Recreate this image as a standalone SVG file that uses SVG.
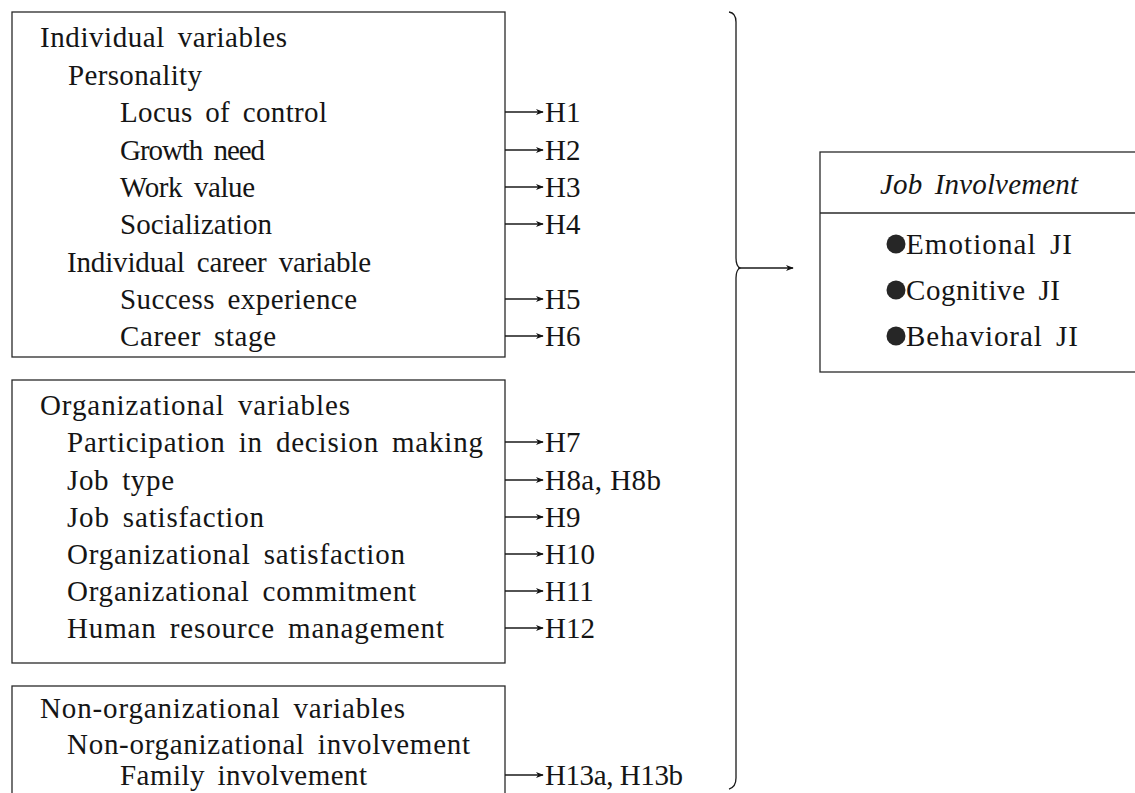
<svg xmlns="http://www.w3.org/2000/svg" width="1135" height="793" viewBox="0 0 1135 793">
<defs>
<style>
.box{fill:none;stroke:#2a2a2a;stroke-width:1.3}
.t{font-family:"Liberation Serif","Times New Roman",serif;font-size:29px;fill:#151515;word-spacing:5px}
.h{font-family:"Liberation Serif","Times New Roman",serif;font-size:29px;fill:#151515}
.it{font-style:italic}
.ln{fill:none;stroke:#1a1a1a;stroke-width:1.3}
.bul{fill:#262626}
</style>
<marker id="ah" viewBox="0 0 10 10" refX="9" refY="5" markerWidth="8" markerHeight="8" markerUnits="userSpaceOnUse" orient="auto">
<path d="M0,1 L10,5 L0,9 L3,5 Z" fill="#111"/>
</marker>
</defs>
<rect width="1135" height="793" fill="#fff"/>

<g id="individual">
<rect class="box" x="12" y="12" width="493" height="345"/>
<text class="t" x="40" y="47" textLength="247" lengthAdjust="spacing">Individual variables</text>
<text class="t" x="68" y="85" textLength="134" lengthAdjust="spacing">Personality</text>
<text class="t" x="120" y="122" textLength="207" lengthAdjust="spacing">Locus of control</text>
<text class="t" x="120" y="160" textLength="145" lengthAdjust="spacing">Growth need</text>
<text class="t" x="120" y="197" textLength="135" lengthAdjust="spacing">Work value</text>
<text class="t" x="120" y="234" textLength="152" lengthAdjust="spacing">Socialization</text>
<text class="t" x="67" y="272" textLength="304" lengthAdjust="spacing">Individual career variable</text>
<text class="t" x="120" y="309" textLength="237" lengthAdjust="spacing">Success experience</text>
<text class="t" x="120" y="346" textLength="156" lengthAdjust="spacing">Career stage</text>
</g>

<g id="organizational">
<rect class="box" x="12" y="380" width="493" height="283"/>
<text class="t" x="40" y="415" textLength="310" lengthAdjust="spacing">Organizational variables</text>
<text class="t" x="67" y="452" textLength="416" lengthAdjust="spacing">Participation in decision making</text>
<text class="t" x="67" y="490" textLength="107" lengthAdjust="spacing">Job type</text>
<text class="t" x="67" y="527" textLength="197" lengthAdjust="spacing">Job satisfaction</text>
<text class="t" x="67" y="564" textLength="338" lengthAdjust="spacing">Organizational satisfaction</text>
<text class="t" x="67" y="601" textLength="349" lengthAdjust="spacing">Organizational commitment</text>
<text class="t" x="67" y="638" textLength="377" lengthAdjust="spacing">Human resource management</text>
</g>

<g id="nonorganizational">
<rect class="box" x="12" y="686" width="493" height="130"/>
<text class="t" x="40" y="718" textLength="365" lengthAdjust="spacing">Non-organizational variables</text>
<text class="t" x="67" y="754" textLength="403" lengthAdjust="spacing">Non-organizational involvement</text>
<text class="t" x="120" y="785" textLength="247" lengthAdjust="spacing">Family involvement</text>
</g>

<g id="hypotheses">
<text class="h" x="545" y="122">H1</text>
<text class="h" x="545" y="160">H2</text>
<text class="h" x="545" y="197">H3</text>
<text class="h" x="545" y="234">H4</text>
<text class="h" x="545" y="309">H5</text>
<text class="h" x="545" y="346">H6</text>
<text class="h" x="545" y="452">H7</text>
<text class="h" x="545" y="490" textLength="116" lengthAdjust="spacing">H8a, H8b</text>
<text class="h" x="545" y="527">H9</text>
<text class="h" x="545" y="564">H10</text>
<text class="h" x="545" y="601">H11</text>
<text class="h" x="545" y="638">H12</text>
<text class="h" x="545" y="785" textLength="138" lengthAdjust="spacing">H13a, H13b</text>
</g>

<g id="job-involvement">
<rect class="box" x="820" y="152" width="330" height="220"/>
<line class="box" x1="820" y1="213" x2="1135" y2="213"/>
<text class="h it" x="979" y="194" text-anchor="middle" textLength="198" lengthAdjust="spacing" style="word-spacing:5px">Job Involvement</text>
<circle class="bul" cx="896" cy="244" r="9.5"/>
<text class="t" x="906" y="254" textLength="166" lengthAdjust="spacing">Emotional JI</text>
<circle class="bul" cx="896" cy="290" r="9.5"/>
<text class="t" x="906" y="300" textLength="154" lengthAdjust="spacing">Cognitive JI</text>
<circle class="bul" cx="896" cy="336" r="9.5"/>
<text class="t" x="906" y="346" textLength="172" lengthAdjust="spacing">Behavioral JI</text>
</g>

<g id="connectors">
<line class="ln" x1="505" y1="112" x2="543" y2="112" marker-end="url(#ah)"/>
<line class="ln" x1="505" y1="150" x2="543" y2="150" marker-end="url(#ah)"/>
<line class="ln" x1="505" y1="187" x2="543" y2="187" marker-end="url(#ah)"/>
<line class="ln" x1="505" y1="224" x2="543" y2="224" marker-end="url(#ah)"/>
<line class="ln" x1="505" y1="299" x2="543" y2="299" marker-end="url(#ah)"/>
<line class="ln" x1="505" y1="336" x2="543" y2="336" marker-end="url(#ah)"/>
<line class="ln" x1="505" y1="442" x2="543" y2="442" marker-end="url(#ah)"/>
<line class="ln" x1="505" y1="480" x2="543" y2="480" marker-end="url(#ah)"/>
<line class="ln" x1="505" y1="517" x2="543" y2="517" marker-end="url(#ah)"/>
<line class="ln" x1="505" y1="554" x2="543" y2="554" marker-end="url(#ah)"/>
<line class="ln" x1="505" y1="591" x2="543" y2="591" marker-end="url(#ah)"/>
<line class="ln" x1="505" y1="628" x2="543" y2="628" marker-end="url(#ah)"/>
<line class="ln" x1="505" y1="775" x2="543" y2="775" marker-end="url(#ah)"/>
<path class="ln" d="M729,12 Q736,13 736,22 L736,258 Q736,266 740,268 Q736,270 736,278 L736,778 Q736,787 729,789"/>
<line class="ln" x1="738" y1="268" x2="793" y2="268" marker-end="url(#ah)"/>
</g>
</svg>
